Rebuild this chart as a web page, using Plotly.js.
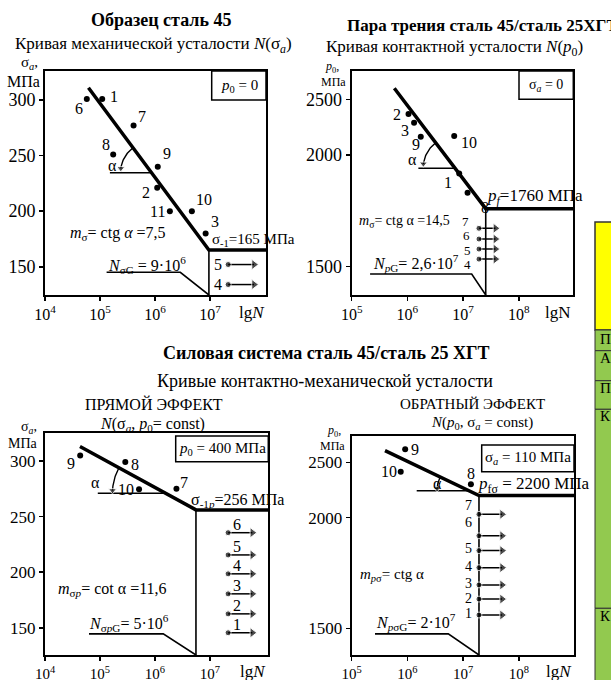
<!DOCTYPE html>
<html><head><meta charset="utf-8">
<script src="https://cdn.plot.ly/plotly-3.0.1.min.js"></script>
<style>html,body{margin:0;padding:0;background:#fff}#chart{width:611px;height:680px}</style>
</head><body><div id="chart"></div>
<script>
const W = 611, H = 680;
const SERIF = 'Liberation Serif, Times New Roman, serif';

// ---------- Panel 1: steel 45, mechanical fatigue N(sigma_a) ----------
const p1Labels = ['6','1','7','8','9','2','11','10','3'];
const p1LgN    = [4.76, 5.04, 5.61, 5.24, 6.05, 6.04, 6.27, 6.67, 6.92];
const p1Sigma  = [301, 301, 277, 251, 240, 221, 200, 200, 180];
const p1RunLabels = ['5','4'];
const p1RunLgN    = [7.33, 7.33];
const p1RunSigma  = [152, 134];
const p1RunTip    = 7.8;
const p1CurveLgN   = [4.79, 6.98, 8.018];
const p1CurveSigma = [311, 165, 165];
const p1GLgN   = [5.12, 6.46];
const p1GSigma = [145, 145];
const p1AngleLevel = 234.6, p1AngleStart = 5.18;

// ---------- Panel 2: friction pair, contact fatigue N(p0) ----------
const p2Labels = ['2','3','9','10','1','8'];
const p2LgN    = [6.02, 6.12, 6.24, 6.84, 6.93, 7.08];
const p2P      = [2368, 2290, 2165, 2171, 1918, 1831];
const p2RunLabels = ['7','6','5','4'];
const p2RunLgN    = [7.285, 7.285, 7.285, 7.285];
const p2RunP      = [1672, 1624, 1579, 1534];
const p2RunTip    = 7.58;
const p2CurveLgN = [5.765, 7.406, 8.978];
const p2CurveP   = [2599, 1760, 1760];
const p2GLgN = [5.33, 7.154];
const p2GP   = [1467, 1467];
const p2AngleLevel = 1941, p2AngleStart = 6.197;

// ---------- Panel 3: direct effect N(sigma_a, p0 = const) ----------
const p3Labels = ['9','8','10','7'];
const p3LgN    = [4.64, 5.46, 5.71, 6.39];
const p3Sigma  = [305, 299, 274.5, 275];
const p3RunLabels = ['6','5','4','3','2','1'];
const p3RunLgN    = [7.33, 7.33, 7.33, 7.33, 7.33, 7.33];
const p3RunSigma  = [235.5, 215.5, 198.5, 180.5, 162.5, 145.5];
const p3RunTip    = 7.77;
const p3CurveLgN   = [4.636, 6.745, 8.055];
const p3CurveSigma = [313, 256, 256];
const p3GLgN   = [4.8, 6.15];
const p3GSigma = [144.5, 144.5];
const p3AngleLevel = 271, p3AngleStart = 4.96;

// ---------- Panel 4: inverse effect N(p0, sigma_a = const) ----------
const p4Labels = ['9','10','8'];
const p4LgN    = [5.96, 5.88, 7.14];
const p4P      = [2617, 2415, 2301];
const p4RunLabels = ['7','6','5','4','3','2','1'];
const p4RunLgN    = [7.285, 7.285, 7.285, 7.285, 7.285, 7.285, 7.285];
const p4RunP      = [2030, 1918, 1851, 1774, 1696, 1632, 1560];
const p4RunTip    = 7.7;
const p4CurveLgN = [5.598, 7.285, 8.991];
const p4CurveP   = [2605, 2200, 2200];
const p4GLgN = [5.418, 6.734];
const p4GP   = [1475, 1475];
const p4AngleLevel = 2243, p4AngleStart = 6.167;

// tick labels
const xTicksA = [4,5,6,7];
const xTextA  = ['10<sup>4</sup>','10<sup>5</sup>','10<sup>6</sup>','10<sup>7</sup>'];
const xTicksB = [5,6,7,8];
const xTextB  = ['10<sup>5</sup>','10<sup>6</sup>','10<sup>7</sup>','10<sup>8</sup>'];
const sigmaTicks = [150,200,250,300];
const pTicksMPa  = [1500,2000,2500];

// the p0 axis of the original is drawn with a doubled scale below 2000 MPa
const tfP = p => p >= 2000 ? p : 2*p - 2000;
const tfId = v => v;

// ---------- layout geometry (pixels) ----------
const panels = {
  p1: {px:[45,266],      py:[71,295],     xr:[4,8.018], yr:[124.6,326.1]},
  p2: {px:[351.7,573.3], py:[71,295],     xr:[5,8.978], yr:[746.4,2753.6]},
  p3: {px:[45,268],      py:[433.3,655],  xr:[4,8.055], yr:[125.5,324.9]},
  p4: {px:[351.7,574],   py:[435.7,655],  xr:[5,8.991], yr:[758.8,2740.4]}
};

const traces = [], annotations = [], shapes = [];
const black = '#000';

function T(px, py, text, size, extra) {
  return Object.assign({xref:'paper', yref:'paper', x:px/W, y:1-py/H, text:text, showarrow:false,
    font:{family:SERIF, size:size||16, color:black}, xanchor:'center', yanchor:'middle'}, extra||{});
}
function R(x0, y0, x1, y1, fill, lw, lc) {
  return {type:'rect', xref:'paper', yref:'paper', x0:x0/W, x1:x1/W, y0:1-y0/H, y1:1-y1/H,
    line:{color:lc||black, width:lw==null?1.5:lw}, fillcolor:fill||'rgba(0,0,0,0)', layer:'above'};
}

function buildPanel(o) {
  const P = panels[o.key];
  const xa = o.xa, ya = o.ya, tf = o.tf;
  const sx = (P.px[1]-P.px[0])/(P.xr[1]-P.xr[0]);
  const sy = (P.py[1]-P.py[0])/(P.yr[1]-P.yr[0]);
  const base = {xaxis:xa, yaxis:ya, hoverinfo:'skip', showlegend:false};
  const cy = o.curveY.map(tf);
  // main fatigue curve
  traces.push(Object.assign({x:o.curveX, y:cy, mode:'lines', line:{color:black, width:3.5}}, base));
  // knee vertical
  const kx = o.curveX[1], ky = cy[1];
  traces.push(Object.assign({x:[kx,kx], y:[ky, P.yr[0]], mode:'lines', line:{color:black, width:1.6}}, base));
  // N_G polyline
  traces.push(Object.assign({x:o.gX.concat([kx]), y:o.gY.map(tf).concat([P.yr[0]]), mode:'lines',
    line:{color:black, width:1.6}}, base));
  // slope angle construction
  const yA = tf(o.angleLevel);
  const xc = o.curveX[0] + (cy[0]-yA)/(cy[0]-cy[1])*(o.curveX[1]-o.curveX[0]);
  traces.push(Object.assign({x:[o.angleStart, xc], y:[yA, yA], mode:'lines', line:{color:black, width:1.4}}, base));
  const a0 = Math.atan2((cy[0]-yA)*sy, (o.curveX[0]-xc)*sx);
  const a1 = o.arcEnd*Math.PI/180;
  const ax = [], ay = [], asz = [];
  for (let i = 0; i <= 24; i++) {
    const a = a0 + (a1-a0)*i/24;
    ax.push(xc + o.arcR*Math.cos(a)/sx);
    ay.push(yA + o.arcR*Math.sin(a)/sy);
    asz.push(i === 24 ? 7 : 0);
  }
  traces.push(Object.assign({x:ax, y:ay, mode:'lines+markers', line:{color:black, width:1.4},
    marker:{symbol:'triangle-down', size:asz, color:black}, cliponaxis:false}, base));
  // failed specimens
  traces.push(Object.assign({x:o.ptX, y:o.ptY.map(tf), mode:'markers',
    marker:{color:black, size:6}, cliponaxis:false}, base));
  // run-outs with arrows
  const rx = [], ry = [], rs = [], rz = [];
  o.runX.forEach((xv, i) => {
    const v = tf(o.runY[i]);
    rx.push(xv, o.runTip, null); ry.push(v, v, null);
    rs.push('circle', 'triangle-right', 'circle'); rz.push(6, 9, 0);
  });
  traces.push(Object.assign({x:rx, y:ry, mode:'lines+markers', line:{color:black, width:1.5},
    marker:{symbol:rs, size:rz, color:black}, connectgaps:false, cliponaxis:false}, base));
  // point labels, offset in pixels from their points
  const lab = (xs, ys, ls, offs, fs) => ls.forEach((t, i) => annotations.push({
    xref:xa, yref:ya, x:xs[i], y:tf(ys[i]), text:t, showarrow:false,
    xshift:offs[i][0], yshift:-offs[i][1], font:{family:SERIF, size:fs, color:black}}));
  lab(o.ptX, o.ptY, o.ptL, o.ptOff, 16);
  lab(o.runX, o.runY, o.runL, o.runOff, o.runFont || 16);
}

buildPanel({key:'p1', xa:'x', ya:'y', tf:tfId, curveX:p1CurveLgN, curveY:p1CurveSigma, gX:p1GLgN, gY:p1GSigma,
  angleLevel:p1AngleLevel, angleStart:p1AngleStart, arcR:31, arcEnd:172,
  ptX:p1LgN, ptY:p1Sigma, ptL:p1Labels,
  ptOff:[[-8,10],[12,-2],[8,-9],[-7,-10],[9,-13],[-11,5],[-12,0],[12,-12],[9,-12]],
  runX:p1RunLgN, runY:p1RunSigma, runL:p1RunLabels, runOff:[[-10,0],[-10,0]], runTip:p1RunTip});
buildPanel({key:'p2', xa:'x2', ya:'y2', tf:tfP, curveX:p2CurveLgN, curveY:p2CurveP, gX:p2GLgN, gY:p2GP,
  angleLevel:p2AngleLevel, angleStart:p2AngleStart, arcR:32, arcEnd:172,
  ptX:p2LgN, ptY:p2P, ptL:p2Labels,
  ptOff:[[-12,0],[-9,8],[-5,8],[15,6],[-11,9],[17,15]],
  runX:p2RunLgN, runY:p2RunP, runL:p2RunLabels, runOff:[[-13,-7],[-12,-4],[-11,1],[-11,5]], runFont:13,
  runTip:p2RunTip});
buildPanel({key:'p3', xa:'x3', ya:'y3', tf:tfId, curveX:p3CurveLgN, curveY:p3CurveSigma, gX:p3GLgN, gY:p3GSigma,
  angleLevel:p3AngleLevel, angleStart:p3AngleStart, arcR:53, arcEnd:177,
  ptX:p3LgN, ptY:p3Sigma, ptL:p3Labels,
  ptOff:[[-9,8],[10,2],[-13,0],[8,-6]],
  runX:p3RunLgN, runY:p3RunSigma, runL:p3RunLabels, runOff:p3RunLabels.map(() => [9,-8]), runTip:p3RunTip});
buildPanel({key:'p4', xa:'x4', ya:'y4', tf:tfP, curveX:p4CurveLgN, curveY:p4CurveP, gX:p4GLgN, gY:p4GP,
  angleLevel:p4AngleLevel, angleStart:p4AngleStart, arcR:32, arcEnd:176,
  ptX:p4LgN, ptY:p4P, ptL:p4Labels,
  ptOff:[[10,0],[-12,0],[0,-11]],
  runX:p4RunLgN, runY:p4RunP, runL:p4RunLabels, runFont:14,
  runOff:[[-10,-9],[-10,-13],[-10,-2],[-10,-1],[-10,-1],[-10,-1],[-10,-2]], runTip:p4RunTip});

// ---------- texts ----------
annotations.push(
  T(161, 20, '<b>Образец сталь 45</b>', 18),
  T(153, 45, 'Кривая механической усталости <i>N</i>(σ<sub><i>a</i></sub>)', 17),
  T(345, 26, '<b>Пара трения сталь 45/сталь 25ХГТ</b>', 17, {xanchor:'left'}),
  T(454, 48, 'Кривая контактной усталости <i>N</i>(<i>p</i><sub>0</sub>)', 17),
  T(326, 353, '<b>Силовая система сталь 45/сталь 25 ХГТ</b>', 18),
  T(325, 381, 'Кривые контактно-механической усталости', 18),
  T(154, 404, 'ПРЯМОЙ ЭФФЕКТ', 16),
  T(152, 424, '<i>N</i>(σ<sub><i>a</i></sub>, <i>p</i><sub>0</sub>= const)', 16),
  T(473, 404, 'ОБРАТНЫЙ ЭФФЕКТ', 15),
  T(482, 423, '<i>N</i>(<i>p</i><sub>0</sub>, σ<sub><i>a</i></sub> = const)', 15),
  // axis units
  T(30, 63, 'σ<sub><i>a</i></sub>,', 15), T(23, 81, 'МПа', 16),
  T(332, 67, '<i>p</i><sub>0</sub>,', 12), T(333, 82, 'МПа', 12),
  T(29, 427, 'σ<sub><i>a</i></sub>,', 14), T(23, 443, 'МПа', 14),
  T(334, 431, '<i>p</i><sub>0</sub>,', 12), T(332, 446, 'МПа', 12),
  T(252, 313, 'lg<i>N</i>', 17), T(558, 313, 'lgN', 17),
  T(253, 671, 'lg<i>N</i>', 17), T(559, 671, 'lg<i>N</i>', 17),
  // panel 1
  T(239, 85.5, '<i>p</i><sub>0</sub> = 0', 15),
  T(118, 233, '<i>m</i><sub>σ</sub>= ctg <i>α</i> =7,5', 16),
  T(253, 240, 'σ<sub>-1</sub>=165 МПа', 15),
  T(147, 265, '<i>N</i><sub>σG</sub> = 9·10<sup>6</sup>', 16),
  T(113, 165, 'α', 16),
  // panel 2
  T(546, 85, 'σ<sub><i>a</i></sub> = 0', 14),
  T(535, 197, '<i>p<sub>f</sub></i>=1760 МПа', 17),
  T(404, 222, '<i>m</i><sub>σ</sub>= ctg α =14,5', 14),
  T(416, 263, '<i>N</i><sub><i>p</i>G</sub>= 2,6·10<sup>7</sup>', 16),
  T(412, 159, 'α', 16),
  // panel 3
  T(222, 449, '<i>p</i><sub>0</sub> = 400 МПа', 15),
  T(237, 500, 'σ<sub>-1<i>p</i></sub>=256 МПа', 16),
  T(113, 589, '<i>m</i><sub>σ<i>p</i></sub>= cot α =11,6', 16),
  T(129, 623, '<i>N</i><sub>σ<i>p</i>G</sub>= 5·10<sup>6</sup>', 16),
  T(95, 482, 'α', 16),
  // panel 4
  T(528, 458, 'σ<sub><i>a</i></sub> = 110 МПа', 15),
  T(534, 485, '<i>p</i><sub>fσ</sub> = 2200 МПа', 17),
  T(392, 575, '<i>m</i><sub><i>p</i>σ</sub>= ctg α', 15),
  T(416, 622, '<i>N</i><sub><i>p</i>σG</sub>= 2·10<sup>7</sup>', 16),
  T(437, 483, 'α', 16),
  // cropped table at the right edge
  T(598, 339, 'П', 15, {xanchor:'left'}),
  T(598, 358, 'А', 15, {xanchor:'left'}),
  T(598, 388, 'П', 15, {xanchor:'left'}),
  T(598, 416, 'К', 15, {xanchor:'left'}),
  T(598, 616, 'К', 15, {xanchor:'left'})
);

shapes.push(
  R(211.7, 71, 266, 100), R(519, 71, 573.3, 99.3), R(175.7, 436, 268.3, 461.7), R(481.7, 445, 574, 471.7),
  R(595, 222, 615, 330, '#ffff00', 1.5, '#333'),
  R(595, 330, 615, 350.7, '#92c94f', 1, '#333'),
  R(595, 350.7, 615, 380.7, '#92c94f', 1, '#333'),
  R(595, 380.7, 615, 409.3, '#92c94f', 1, '#333'),
  R(595, 409.3, 615, 608.3, '#92c94f', 1, '#333'),
  R(595, 608.3, 615, 690, '#92c94f', 1, '#333')
);

// ---------- axes ----------
function axis(dom, range, tv, tt, anchor, size) {
  return {domain:dom, range:range, tickvals:tv, ticktext:tt, anchor:anchor,
    showline:true, mirror:true, linecolor:black, linewidth:2, ticks:'outside', ticklen:4, tickwidth:1.5,
    tickcolor:black, showgrid:false, zeroline:false, fixedrange:true,
    tickfont:{family:SERIF, size:size, color:black}};
}
function xd(P) { return [P.px[0]/W, P.px[1]/W]; }
function yd(P) { return [1-P.py[1]/H, 1-P.py[0]/H]; }
const pTickText = pTicksMPa.map(String);
const pTickVals = pTicksMPa.map(tfP);
const sTickText = sigmaTicks.map(String);

const layout = {
  width:W, height:H, autosize:false, margin:{l:0,r:0,t:0,b:0},
  paper_bgcolor:'#fff', plot_bgcolor:'#fff', showlegend:false,
  xaxis:  axis(xd(panels.p1), panels.p1.xr, xTicksA, xTextA, 'y', 16),
  yaxis:  axis(yd(panels.p1), panels.p1.yr, sigmaTicks, sTickText, 'x', 18),
  xaxis2: axis(xd(panels.p2), panels.p2.xr, xTicksB, xTextB, 'y2', 16),
  yaxis2: axis(yd(panels.p2), panels.p2.yr, pTickVals, pTickText, 'x2', 18),
  xaxis3: axis(xd(panels.p3), panels.p3.xr, xTicksA, xTextA, 'y3', 15),
  yaxis3: axis(yd(panels.p3), panels.p3.yr, sigmaTicks, sTickText, 'x3', 17),
  xaxis4: axis(xd(panels.p4), panels.p4.xr, xTicksB, xTextB, 'y4', 15),
  yaxis4: axis(yd(panels.p4), panels.p4.yr, pTickVals, pTickText, 'x4', 17),
  annotations:annotations, shapes:shapes
};

Plotly.newPlot('chart', traces, layout, {displayModeBar:false, staticPlot:true});
</script></body></html>
